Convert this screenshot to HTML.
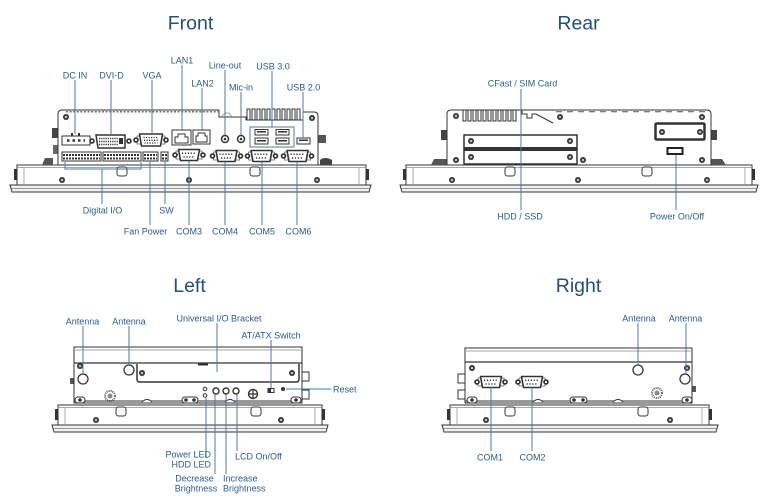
<!DOCTYPE html>
<html><head><meta charset="utf-8"><style>
html,body{margin:0;padding:0;background:#fff;}
svg{display:block}
.t{font-family:"Liberation Sans",sans-serif;font-size:19.5px;fill:#234f7b;text-anchor:middle}
.l{font-family:"Liberation Sans",sans-serif;font-size:9px;fill:#2d5b88;text-anchor:middle}
.ls{font-family:"Liberation Sans",sans-serif;font-size:9px;fill:#2d5b88;text-anchor:start}
.le{font-family:"Liberation Sans",sans-serif;font-size:9px;fill:#2d5b88;text-anchor:end}
.ln{stroke:#4a7aa8;stroke-width:1;fill:none}
.o{stroke:#333;stroke-width:1;fill:#fff}
.g{stroke:#888;stroke-width:0.7;fill:none}
</style></head><body>
<svg width="781" height="503" viewBox="0 0 781 503" xmlns="http://www.w3.org/2000/svg">
<defs>
<g id="scr"><circle r="3" fill="#333"/><circle r="1.3" fill="#bbb"/></g>
<g id="nut"><circle r="2.8" fill="#333"/><circle r="1.1" fill="#fff"/></g>
<g id="db9">
  <rect x="-13" y="-4" width="26" height="8" fill="#fff" stroke="#555" stroke-width="0.7"/>
  <use href="#nut" x="-14"/><use href="#nut" x="14"/>
  <path d="M-10.5,-5.5 H10.5 L8.5,5.5 H-8.5 Z" fill="#fff" stroke="#333" stroke-width="1.6" stroke-linejoin="round"/>
  <line x1="-7" y1="-1.8" x2="7" y2="-1.8" stroke="#333" stroke-width="1.5" stroke-dasharray="1.2 1.7"/>
  <line x1="-5.5" y1="2" x2="5.5" y2="2" stroke="#333" stroke-width="1.5" stroke-dasharray="1.2 1.7"/>
</g>
<g id="boss"><rect x="-5" y="-3" width="10" height="6" rx="3" fill="#fff" stroke="#333"/><circle r="1.8" fill="#333"/></g>
</defs>

<!-- ================= TITLES ================= -->
<text class="t" x="190.5" y="29.5">Front</text>
<text class="t" x="578.5" y="29.5">Rear</text>
<text class="t" x="189.5" y="292">Left</text>
<text class="t" x="578.5" y="292">Right</text>

<!-- ================= FRONT ================= -->
<!-- bezel -->
<rect x="17" y="165" width="349" height="20" class="o"/>
<line x1="18" y1="167.5" x2="365" y2="167.5" class="g"/>
<line x1="24" y1="168" x2="24" y2="184" class="g"/>
<line x1="359" y1="168" x2="359" y2="184" class="g"/>
<path d="M10,185 H371 L369,192 H12 Z" fill="#f2f2f2" stroke="#333"/>
<line x1="11" y1="188.5" x2="370" y2="188.5" stroke="#777" stroke-width="0.8"/>
<rect x="14" y="169" width="3" height="11" fill="#333"/>
<rect x="366" y="169" width="3" height="11" fill="#333"/>
<rect x="117" y="167" width="10" height="9" rx="2.5" class="o"/>
<rect x="250" y="167" width="10" height="9" rx="2.5" class="o"/>
<use href="#scr" x="62" y="180"/><use href="#scr" x="189" y="180"/><use href="#scr" x="317" y="180"/>
<!-- chassis -->
<path d="M42,165 L45,158 H53 V165 Z" fill="#555"/>
<rect x="52" y="128" width="6" height="10" fill="#444"/>
<rect x="53" y="145" width="5" height="9" fill="#666"/>
<rect x="318" y="135" width="8" height="8" fill="#555"/>
<path d="M320,165 V160 Q325,156 332,160 V165 Z" fill="#444"/>
<path d="M58,165 V114 Q58,110 62,110 H219 V117 H246 V120 H303 V112 H314 Q318,112 318,116 V165 Z" class="o" stroke-width="1.2"/>
<line x1="66" y1="111.8" x2="218" y2="111.8" stroke="#444" stroke-width="1.2" stroke-dasharray="2 1.6"/>
<path d="M247,120 V109 H250 V120 M252,120 V109 H255 V120 M257,120 V109 H260 V120 M262,120 V109 H265 V120 M267,120 V109 H270 V120 M272,120 V109 H275 V120 M277,120 V109 H280 V120 M282,120 V109 H285 V120 M287,120 V109 H290 V120 M292,120 V109 H295 V120 M297,120 V109 H300 V120" stroke="#333" stroke-width="1" fill="none"/>
<path d="M221,117 L225,113 H229 L232,117" class="g"/>
<use href="#scr" x="66" y="117"/><use href="#scr" x="312" y="118"/>
<!-- DC IN -->
<rect x="62" y="136" width="28" height="9" class="o" stroke-width="1.3"/>
<rect x="71" y="133" width="2" height="3" fill="#333"/><rect x="78" y="133" width="2" height="3" fill="#333"/>
<line x1="67" y1="140.5" x2="85" y2="140.5" stroke="#333" stroke-width="2.5" stroke-dasharray="2.5 3"/>
<!-- DVI -->
<use href="#nut" x="92" y="141"/><use href="#nut" x="129" y="141"/>
<path d="M96,135 H125 V148 H98 Z" fill="#fff" stroke="#333" stroke-width="1.5"/>
<line x1="99" y1="138.5" x2="118" y2="138.5" stroke="#333" stroke-width="1.4" stroke-dasharray="1.2 1"/>
<line x1="99" y1="141.5" x2="118" y2="141.5" stroke="#333" stroke-width="1.4" stroke-dasharray="1.2 1"/>
<line x1="99" y1="144.5" x2="118" y2="144.5" stroke="#333" stroke-width="1.4" stroke-dasharray="1.2 1"/>
<rect x="119" y="138" width="4" height="6" fill="#333"/>
<!-- VGA -->
<g transform="translate(151,140)">
 <rect x="-14" y="-4" width="28" height="8" fill="#fff" stroke="#555" stroke-width="0.7"/>
 <use href="#nut" x="-15"/><use href="#nut" x="15"/>
 <path d="M-11.5,-6 H11.5 L9.5,6 H-9.5 Z" fill="#fff" stroke="#333" stroke-width="1.6" stroke-linejoin="round"/>
 <line x1="-7.5" y1="-2.5" x2="7.5" y2="-2.5" stroke="#333" stroke-width="1.3" stroke-dasharray="1.2 1.3"/>
 <line x1="-7" y1="0.3" x2="7" y2="0.3" stroke="#333" stroke-width="1.3" stroke-dasharray="1.2 1.3"/>
 <line x1="-6.5" y1="3" x2="6.5" y2="3" stroke="#333" stroke-width="1.3" stroke-dasharray="1.2 1.3"/>
</g>
<!-- LAN -->
<rect x="172" y="130" width="19" height="15" class="o" stroke-width="1.4"/>
<path d="M175,143 V137 H178 V134 H185 V137 H188 V143 Z" fill="#fff" stroke="#333"/>
<rect x="193" y="130" width="17" height="14" class="o" stroke-width="1.4"/>
<path d="M196,142 V136 H198 V133 H205 V136 H207 V142 Z" fill="#fff" stroke="#333"/>
<!-- audio -->
<circle cx="225" cy="139" r="3.5" fill="#fff" stroke="#333" stroke-width="1.5"/><circle cx="225" cy="139" r="1.3" fill="#333"/>
<circle cx="241" cy="139" r="3.5" fill="#fff" stroke="#333" stroke-width="1.5"/><circle cx="241" cy="139" r="1.3" fill="#333"/>
<!-- USB 3.0 -->
<rect x="250" y="127" width="44" height="20" fill="#fff" stroke="#4a7aa8" stroke-width="1"/>
<rect x="255" y="129.5" width="13" height="5.5" class="o" stroke-width="1.5"/>
<rect x="276" y="129.5" width="13" height="5.5" class="o" stroke-width="1.5"/>
<rect x="255" y="138" width="13" height="6" class="o" stroke-width="1.5"/>
<rect x="276" y="138" width="13" height="6" class="o" stroke-width="1.5"/>
<rect x="257" y="131" width="9" height="1.5" fill="#333"/><rect x="278" y="131" width="9" height="1.5" fill="#333"/>
<rect x="257" y="140" width="9" height="1.5" fill="#333"/><rect x="278" y="140" width="9" height="1.5" fill="#333"/>
<!-- USB 2.0 -->
<rect x="297" y="138" width="13" height="6" class="o" stroke-width="1.5"/>
<rect x="299" y="139.5" width="9" height="1.5" fill="#333"/>
<!-- terminal blocks -->
<g stroke="#333" fill="#fff">
<rect x="62" y="152" width="39" height="9" stroke-width="1"/>
<rect x="103" y="152" width="38" height="9" stroke-width="1"/>
<rect x="143" y="152" width="15" height="9" stroke-width="1"/>
<rect x="161" y="152" width="7" height="9" stroke-width="1"/>
</g>
<g stroke="#333" stroke-width="2" stroke-dasharray="2 1">
<line x1="63" y1="155" x2="100" y2="155"/><line x1="63" y1="158.5" x2="100" y2="158.5"/>
<line x1="104" y1="155" x2="140" y2="155"/><line x1="104" y1="158.5" x2="140" y2="158.5"/>
<line x1="144" y1="155" x2="157" y2="155"/><line x1="144" y1="158.5" x2="157" y2="158.5"/>
<line x1="162" y1="155" x2="167" y2="155"/><line x1="162" y1="158.5" x2="167" y2="158.5"/>
</g>
<!-- COM ports -->
<use href="#db9" x="189" y="155"/>
<use href="#db9" x="226.5" y="156"/>
<use href="#db9" x="261.5" y="156"/>
<use href="#db9" x="297.5" y="156"/>
<!-- front leaders -->
<g class="ln">
<line x1="75" y1="80" x2="75" y2="134"/>
<line x1="111" y1="80" x2="111" y2="135"/>
<line x1="152" y1="80" x2="152" y2="134"/>
<line x1="182" y1="65" x2="182" y2="131"/>
<line x1="202" y1="88" x2="202" y2="131"/>
<line x1="225" y1="70" x2="225" y2="135"/>
<line x1="241" y1="92" x2="241" y2="135"/>
<line x1="272" y1="71" x2="272" y2="127"/>
<line x1="303" y1="92" x2="303" y2="138"/>
<path d="M65,162 V169 H141 V162"/>
<line x1="102" y1="169" x2="102" y2="204"/>
<line x1="150" y1="161" x2="150" y2="225"/>
<line x1="165" y1="161" x2="165" y2="204"/>
<line x1="189" y1="161" x2="189" y2="225"/>
<line x1="225" y1="162" x2="225" y2="225"/>
<line x1="262" y1="162" x2="262" y2="225"/>
<line x1="297" y1="162" x2="297" y2="225"/>
</g>
<text class="l" x="75" y="78.5">DC IN</text>
<text class="l" x="111.5" y="78.5">DVI-D</text>
<text class="l" x="152" y="78.5">VGA</text>
<text class="l" x="182" y="63.5">LAN1</text>
<text class="l" x="202.5" y="86.5">LAN2</text>
<text class="l" x="225" y="68.5">Line-out</text>
<text class="l" x="241" y="90.5">Mic-in</text>
<text class="l" x="273" y="69.5">USB 3.0</text>
<text class="l" x="303.5" y="90.5">USB 2.0</text>
<text class="l" x="102.5" y="213.5">Digital I/O</text>
<text class="l" x="166.5" y="213.5">SW</text>
<text class="l" x="145.5" y="234.5">Fan Power</text>
<text class="l" x="189" y="234.5">COM3</text>
<text class="l" x="225" y="234.5">COM4</text>
<text class="l" x="262" y="234.5">COM5</text>
<text class="l" x="298.5" y="234.5">COM6</text>

<!-- ================= REAR ================= -->
<rect x="406" y="165" width="346" height="20" class="o"/>
<line x1="407" y1="167.5" x2="751" y2="167.5" class="g"/>
<line x1="413" y1="168" x2="413" y2="184" class="g"/>
<line x1="745" y1="168" x2="745" y2="184" class="g"/>
<path d="M400,185 H758 L756,192 H402 Z" fill="#f2f2f2" stroke="#333"/>
<line x1="401" y1="188.5" x2="757" y2="188.5" stroke="#777" stroke-width="0.8"/>
<rect x="403" y="169" width="3" height="11" fill="#333"/>
<rect x="752" y="169" width="3" height="11" fill="#333"/>
<rect x="505" y="167" width="10" height="9" rx="2.5" class="o"/>
<rect x="642" y="167" width="10" height="9" rx="2.5" class="o"/>
<use href="#scr" x="452" y="180"/><use href="#scr" x="578" y="180"/><use href="#scr" x="707" y="180"/>
<!-- chassis -->
<rect x="441" y="130" width="6" height="10" fill="#444"/>
<path d="M431,165 L434,159 H447 V165 Z" fill="#555"/>
<rect x="711" y="130" width="6" height="10" fill="#444"/>
<path d="M711,165 V159 H722 L726,165 Z" fill="#555"/>
<path d="M447,165 V114 Q447,110 451,110 H707 Q711,110 711,114 V165 Z" class="o" stroke-width="1.2"/>
<path d="M463,110 V121 H466 V110 M468,110 V121 H471 V110 M473,110 V121 H476 V110 M478,110 V121 H481 V110 M483,110 V121 H486 V110 M488,110 V121 H491 V110 M493,110 V121 H496 V110 M498,110 V121 H501 V110 M503,110 V121 H506 V110 M508,110 V121 H511 V110 M513,110 V121 H516 V110" stroke="#333" fill="none"/>
<path d="M522,110 V114 H527 V118 H532 V114 H536 L553,123" stroke="#333" fill="none"/>
<line x1="556" y1="111.8" x2="705" y2="111.8" stroke="#555" stroke-width="1" stroke-dasharray="6 5"/>
<use href="#scr" x="456" y="116"/><use href="#scr" x="560" y="117"/><use href="#scr" x="702" y="117"/>
<use href="#scr" x="456" y="160"/><use href="#scr" x="583" y="160"/><use href="#scr" x="702" y="160"/>
<!-- card slots -->
<rect x="464" y="135" width="113" height="29" fill="#fff" stroke="#333" stroke-width="1.5"/>
<rect x="464" y="147" width="113" height="4" fill="#333"/>
<use href="#scr" x="471" y="141"/><use href="#scr" x="570" y="141"/>
<use href="#scr" x="471" y="157"/><use href="#scr" x="570" y="157"/>
<!-- power plate -->
<rect x="655.5" y="123.5" width="49" height="16" fill="#fff" stroke="#333" stroke-width="2.5" rx="1"/>
<use href="#scr" x="662" y="132"/><use href="#scr" x="700" y="132"/>
<rect x="667.5" y="148" width="15" height="6" fill="#fff" stroke="#222" stroke-width="2"/>
<!-- rear leaders -->
<g class="ln">
<line x1="521" y1="89" x2="521" y2="210"/>
<line x1="676" y1="155" x2="676" y2="210"/>
</g>
<text class="l" x="522.5" y="86.5">CFast / SIM Card</text>
<text class="l" x="520" y="219.5">HDD / SSD</text>
<text class="l" x="677" y="219.5">Power On/Off</text>

<!-- ================= LEFT ================= -->
<rect x="58" y="405" width="264" height="20" class="o"/>
<line x1="59" y1="407.5" x2="321" y2="407.5" class="g"/>
<line x1="65" y1="408" x2="65" y2="424" class="g"/>
<line x1="315" y1="408" x2="315" y2="424" class="g"/>
<path d="M52,425 H328 L326,432 H54 Z" fill="#f2f2f2" stroke="#333"/>
<line x1="53" y1="428.5" x2="327" y2="428.5" stroke="#777" stroke-width="0.8"/>
<rect x="55" y="409" width="3" height="11" fill="#333"/>
<rect x="322" y="409" width="3" height="11" fill="#333"/>
<rect x="116" y="407" width="10" height="9" rx="2.5" class="o"/>
<rect x="251" y="407" width="10" height="9" rx="2.5" class="o"/>
<use href="#scr" x="96" y="420"/><use href="#scr" x="281" y="420"/>
<!-- chassis -->
<rect x="70" y="378" width="4" height="6" fill="#555"/>
<rect x="302" y="372" width="7" height="9" fill="#fff" stroke="#333"/>
<rect x="302" y="390" width="7" height="9" fill="#fff" stroke="#333"/>
<rect x="74" y="347" width="228" height="56" class="o" stroke-width="1.2"/>
<line x1="74" y1="363" x2="302" y2="363" stroke="#333" stroke-width="1.2"/>
<line x1="75" y1="350" x2="301" y2="350" class="g"/>
<path d="M137,364 V379 Q137,382 140,382 H296 Q299,382 299,379 V364" fill="#fff" stroke="#333" stroke-width="1.5"/>
<rect x="198" y="363" width="10" height="2.5" fill="#333"/>
<use href="#scr" x="80" y="366"/><use href="#scr" x="142" y="373"/><use href="#scr" x="292" y="373"/>
<circle cx="83" cy="379" r="5" fill="#fff" stroke="#333" stroke-width="1.3"/>
<circle cx="129" cy="370" r="5" fill="#fff" stroke="#333" stroke-width="1.3"/>
<circle cx="110" cy="396" r="5" fill="#fff" stroke="#555" stroke-width="2" stroke-dasharray="1 1"/>
<circle cx="110" cy="396" r="2.5" fill="#888"/>
<path d="M74,401 H300" stroke="#333" fill="none"/>
<use href="#boss" x="80" y="400"/><use href="#boss" x="296" y="400"/>
<rect x="182" y="397" width="16" height="6" rx="3" class="o"/><circle cx="186" cy="400" r="1.8" fill="#333"/><circle cx="194" cy="400" r="1.8" fill="#333"/>
<path d="M142,402 Q147,397 152,402" class="o"/>
<path d="M225,402 Q230,397 235,402" class="o"/>
<circle cx="205" cy="389" r="1.8" fill="#fff" stroke="#333"/>
<circle cx="205" cy="395.5" r="1.8" fill="#fff" stroke="#333"/>
<circle cx="216" cy="391" r="3" fill="#fff" stroke="#333" stroke-width="1.4"/>
<circle cx="226" cy="391" r="3" fill="#fff" stroke="#333" stroke-width="1.4"/>
<circle cx="236" cy="391" r="3" fill="#fff" stroke="#333" stroke-width="1.4"/>
<circle cx="253" cy="394" r="4.5" fill="#fff" stroke="#333" stroke-width="1.4"/>
<path d="M248.5,394 H257.5 M253,389.5 V398.5" stroke="#333" stroke-width="1.2"/>
<rect x="268" y="388.5" width="6" height="4" fill="#fff" stroke="#333"/><rect x="268" y="388.5" width="3" height="4" fill="#333"/>
<circle cx="283" cy="389" r="2" fill="#333"/>
<!-- left leaders -->
<g class="ln">
<line x1="83" y1="326" x2="83" y2="374"/>
<line x1="129" y1="326" x2="129" y2="365"/>
<line x1="217" y1="323" x2="217" y2="372"/>
<line x1="271" y1="340" x2="271" y2="388"/>
<line x1="286" y1="389" x2="331" y2="389"/>
<line x1="206" y1="398" x2="206" y2="458"/>
<line x1="215" y1="394" x2="215" y2="474"/>
<line x1="226" y1="394" x2="226" y2="474"/>
<line x1="237" y1="394" x2="237" y2="451"/>
</g>
<text class="l" x="82.5" y="324.5">Antenna</text>
<text class="l" x="129" y="324.5">Antenna</text>
<text class="l" x="219" y="321.5">Universal I/O Bracket</text>
<text class="l" x="271" y="338.5">AT/ATX Switch</text>
<text class="ls" x="333" y="392.5">Reset</text>
<text class="le" x="211" y="457.5">Power LED</text>
<text class="le" x="211" y="467.5">HDD LED</text>
<text class="l" x="194.5" y="481.5">Decrease</text>
<text class="l" x="196" y="491.5">Brightness</text>
<text class="ls" x="223" y="481.5">Increase</text>
<text class="ls" x="223" y="491.5">Brightness</text>
<text class="ls" x="235" y="459.5">LCD On/Off</text>

<!-- ================= RIGHT ================= -->
<rect x="450" y="405" width="259" height="20" class="o"/>
<line x1="451" y1="407.5" x2="708" y2="407.5" class="g"/>
<line x1="457" y1="408" x2="457" y2="424" class="g"/>
<line x1="702" y1="408" x2="702" y2="424" class="g"/>
<path d="M442,425 H718 L716,432 H444 Z" fill="#f2f2f2" stroke="#333"/>
<line x1="443" y1="428.5" x2="717" y2="428.5" stroke="#777" stroke-width="0.8"/>
<rect x="447" y="409" width="3" height="11" fill="#333"/>
<rect x="709" y="409" width="3" height="11" fill="#333"/>
<rect x="505" y="407" width="10" height="9" rx="2.5" class="o"/>
<rect x="638" y="407" width="10" height="9" rx="2.5" class="o"/>
<use href="#scr" x="486" y="420"/><use href="#scr" x="670" y="420"/>
<!-- chassis -->
<rect x="458" y="374" width="7" height="9" fill="#fff" stroke="#333"/>
<rect x="458" y="390" width="7" height="9" fill="#fff" stroke="#333"/>
<rect x="692" y="386" width="4" height="6" fill="#555"/>
<rect x="465" y="348" width="227" height="55" class="o" stroke-width="1.2"/>
<line x1="465" y1="362" x2="692" y2="362" stroke="#333" stroke-width="1.2"/>
<line x1="466" y1="351" x2="691" y2="351" class="g"/>
<use href="#scr" x="472" y="368"/><use href="#scr" x="687" y="368"/>
<circle cx="638" cy="370" r="5" fill="#fff" stroke="#333" stroke-width="1.3"/>
<circle cx="685" cy="379" r="5" fill="#fff" stroke="#333" stroke-width="1.3"/>
<circle cx="657" cy="393" r="5" fill="#fff" stroke="#555" stroke-width="2" stroke-dasharray="1 1"/>
<circle cx="657" cy="393" r="2.5" fill="#888"/>
<path d="M465,401 H690" stroke="#333" fill="none"/>
<use href="#boss" x="472" y="400"/><use href="#boss" x="687" y="400"/>
<rect x="570" y="397" width="17" height="6" rx="3" class="o"/><circle cx="574" cy="400" r="1.8" fill="#333"/><circle cx="583" cy="400" r="1.8" fill="#333"/>
<path d="M533,402 Q538,397 543,402" class="o"/>
<path d="M613,402 Q618,397 623,402" class="o"/>
<use href="#db9" x="491" y="382"/>
<use href="#db9" x="532" y="382"/>
<!-- right leaders -->
<g class="ln">
<line x1="638" y1="323" x2="638" y2="365"/>
<line x1="686" y1="323" x2="686" y2="374"/>
<line x1="491" y1="387" x2="491" y2="451"/>
<line x1="532" y1="387" x2="532" y2="451"/>
</g>
<text class="l" x="639" y="321.5">Antenna</text>
<text class="l" x="685.5" y="321.5">Antenna</text>
<text class="l" x="490" y="460.5">COM1</text>
<text class="l" x="532.5" y="460.5">COM2</text>
</svg>
</body></html>
